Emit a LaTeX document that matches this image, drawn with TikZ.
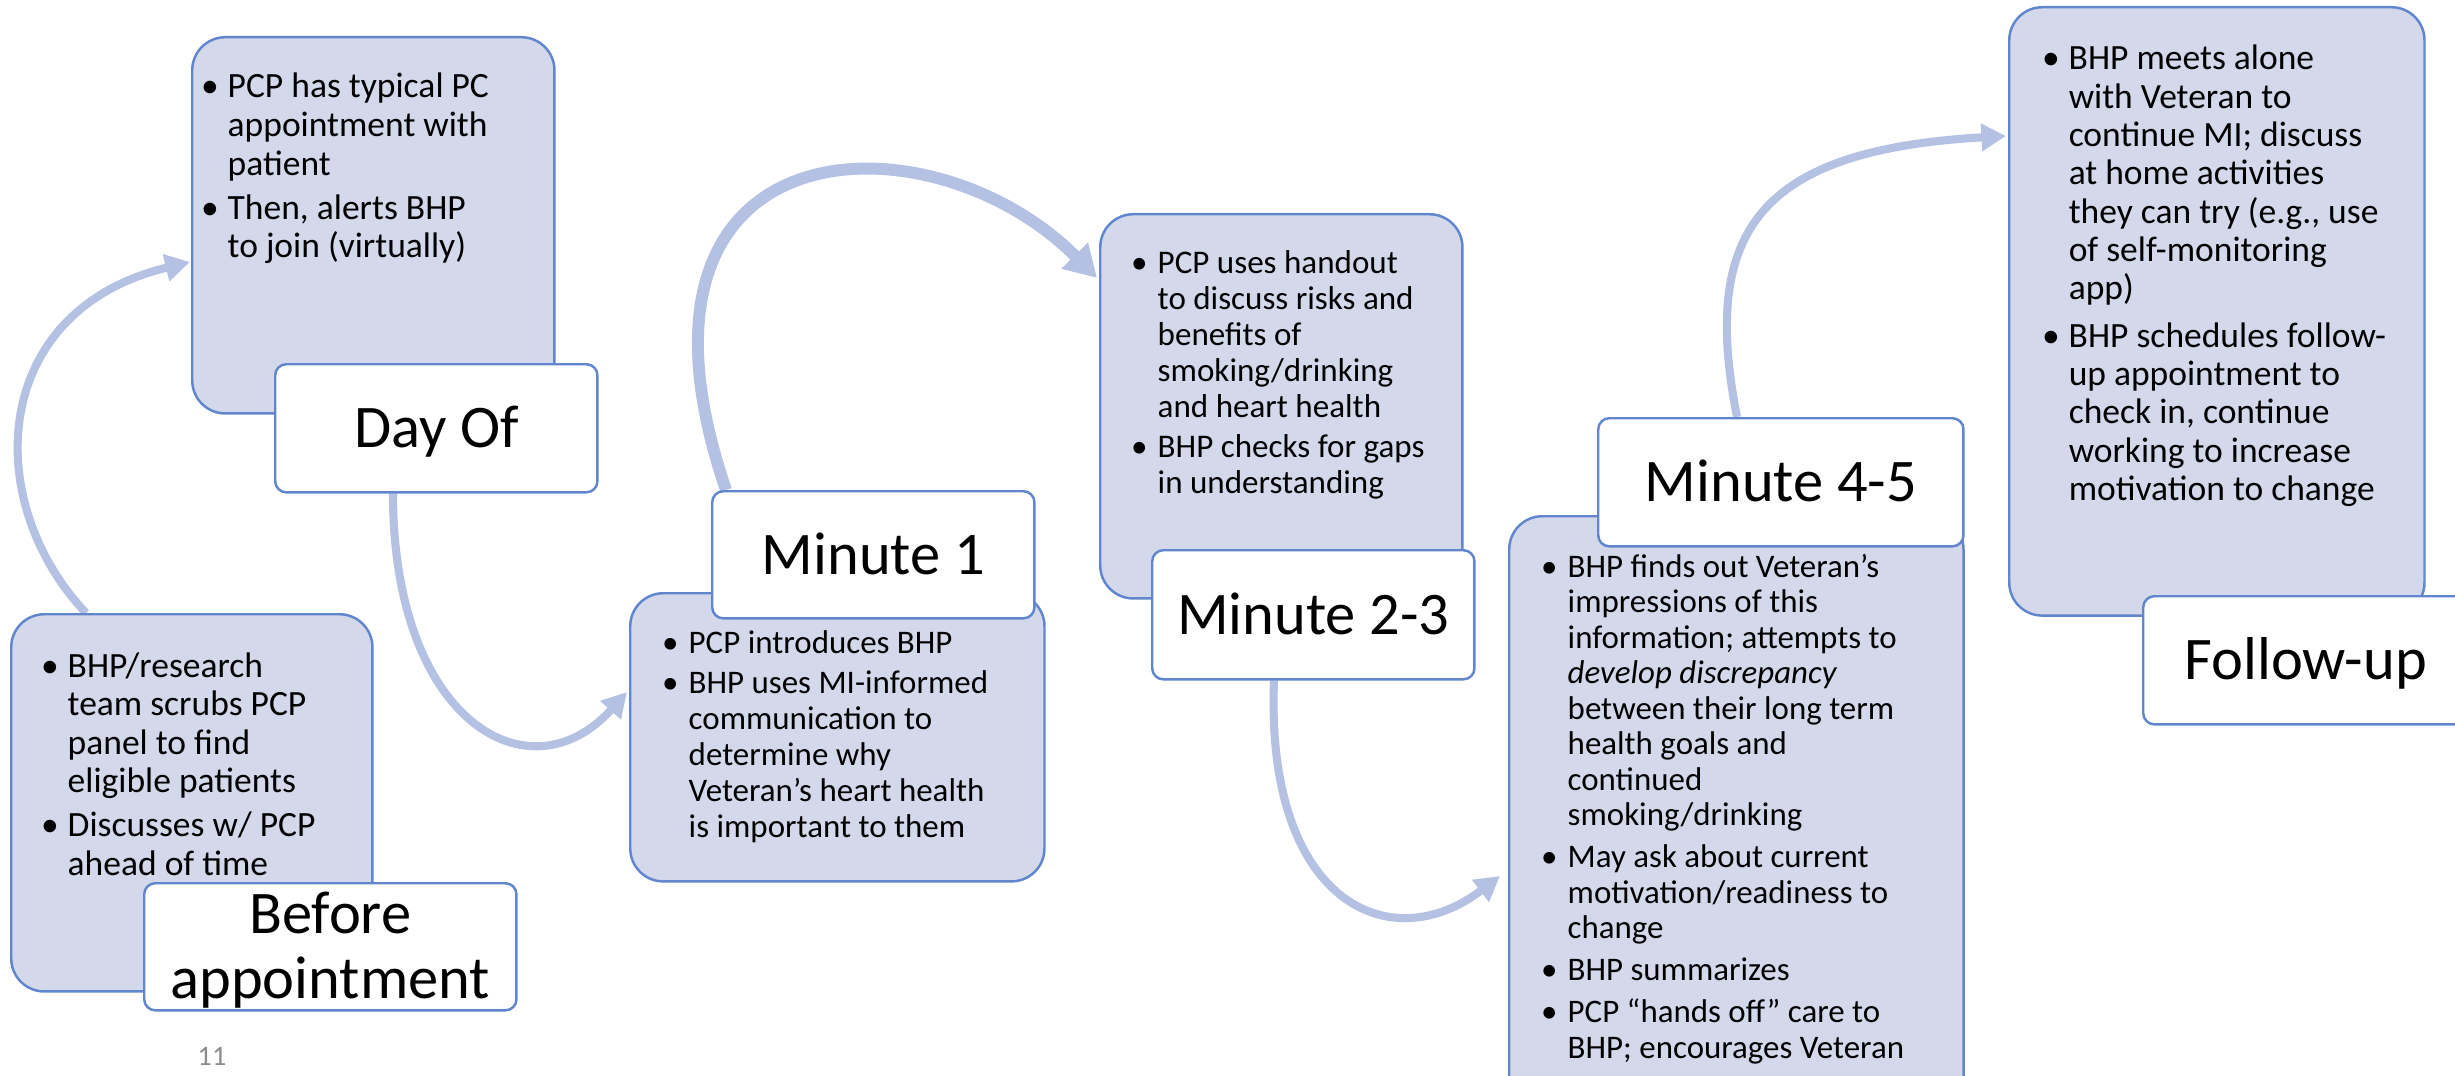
\documentclass[tikz,border=0pt]{standalone}
\usepackage{fontspec}
\setmainfont{Carlito}
\usetikzlibrary{arrows.meta,calc}
\definecolor{boxfill}{RGB}{211,216,235}
\definecolor{boxline}{RGB}{98,134,205}
\definecolor{arrowc}{RGB}{180,193,227}
\definecolor{pagenum}{RGB}{140,140,140}
\pgfdeclarelayer{bg}
\pgfsetlayers{bg,main}
\newlength\bind \setlength\bind{0.21cm}
\newcommand\bitem[1]{\hbox{\makebox[\bind][l]{\hspace{-1.6pt}\textbullet}#1}}
\newcommand\bcont[1]{\hbox{\hspace*{\bind}#1}}
\newcommand\bgap[1]{\vskip #1\relax}
\begin{document}
\begin{tikzpicture}[x=0.01cm, y=-0.01cm,
  bluebox/.style={draw=boxline, line width=0.7pt, fill=boxfill, rounded corners=0.33cm, inner sep=0pt, anchor=north west},
  lblbox/.style={draw=boxline, line width=0.7pt, fill=white, rounded corners=0.11cm, inner sep=0pt, anchor=north west,
     font=\fontsize{17.2}{18.5}\selectfont, text height=11.1pt, text depth=0pt},
  txt/.style={inner sep=0pt, anchor=base west},
  flow/.style={draw=arrowc, line width=2.3pt, -{Triangle[length=7pt, width=7.5pt]}},
  flowthick/.style={draw=arrowc, line width=3.4pt, -{Triangle[length=9pt, width=10pt]}}
]
\useasboundingbox (0,0) rectangle (2455,1076);

% blue content boxes
\node[bluebox, minimum width=3.61cm, minimum height=3.77cm] (beforebox) at (10,613) {};
\node[bluebox, minimum width=3.62cm, minimum height=3.76cm] (dayofbox) at (191,36) {};
\node[bluebox, minimum width=4.14cm, minimum height=2.88cm] (mabox) at (629,592) {};
\node[bluebox, minimum width=3.62cm, minimum height=3.84cm] (mbbox) at (1099,213) {};
\node[bluebox, minimum width=4.54cm, minimum height=6.40cm] (mcbox) at (1508,515) {};
\node[bluebox, minimum width=4.15cm, minimum height=6.08cm] (fubox) at (2008,6) {};

% white labels
\node[lblbox, minimum width=3.72cm, minimum height=1.27cm, text depth=18.5pt] (beforelbl) at (143,882)
  {\vtop{\halign{\hfil#\hfil\cr Before\cr appointment\cr}}};
\node[lblbox, minimum width=3.22cm, minimum height=1.28cm] (dayoflbl) at (274,363) {Day Of};
\node[lblbox, minimum width=3.22cm, minimum height=1.27cm] (malbl) at (711,490) {Minute 1};
\node[lblbox, minimum width=3.22cm, minimum height=1.29cm] (mblbl) at (1151,549) {Minute 2-3};
\node[lblbox, minimum width=3.65cm, minimum height=1.28cm] (mclbl) at (1597,417) {Minute 4-5};
\node[lblbox, minimum width=3.25cm, minimum height=1.28cm] (fulbl) at (2142,595) {Follow-up};

% texts
\node[txt] (beforetext) at (46,677) {\vtop{\fontsize{10.1}{10.95}\selectfont
  \bitem{BHP/research}\bcont{team scrubs PCP}\bcont{panel to find}\bcont{eligible patients}
  \bgap{1.56pt}\bitem{Discusses w/ PCP}\bcont{ahead of time}}};
\node[txt] (dayoftext) at (206,98) {\vtop{\fontsize{10.1}{10.95}\selectfont
  \bitem{PCP has typical PC}\bcont{appointment with}\bcont{patient}
  \bgap{1.56pt}\bitem{Then, alerts BHP}\bcont{to join (virtually)}}};
\node[txt] (matext) at (667,653) {\vtop{\fontsize{9.37}{10.24}\selectfont
  \bitem{PCP introduces BHP}
  \bgap{1.14pt}\bitem{BHP uses MI-informed}\bcont{communication to}\bcont{determine why}\bcont{Veteran’s heart health}\bcont{is important to them}}};
\node[txt] (mbtext) at (1136,273) {\vtop{\fontsize{9.4}{10.24}\selectfont
  \bitem{PCP uses handout}\bcont{to discuss risks and}\bcont{benefits of}\bcont{smoking/drinking}\bcont{and heart health}
  \bgap{1.4pt}\bitem{BHP checks for gaps}\bcont{in understanding}}};
\node[txt] (mctext) at (1546,577) {\vtop{\fontsize{9.36}{10.1}\selectfont
  \bitem{BHP finds out Veteran’s}\bcont{impressions of this}\bcont{information; attempts to}\bcont{\textit{develop discrepancy}}\bcont{between their long term}\bcont{health goals and}\bcont{continued}\bcont{smoking/drinking}
  \bgap{1.85pt}\bitem{May ask about current}\bcont{motivation/readiness to}\bcont{change}
  \bgap{1.85pt}\bitem{BHP summarizes}
  \bgap{1.85pt}\bitem{PCP “hands off” care to}\bcont{BHP; encourages Veteran}}};
\node[txt] (futext) at (2047,70) {\vtop{\fontsize{10.1}{10.9}\selectfont
  \bitem{BHP meets alone}\bcont{with Veteran to}\bcont{continue MI; discuss}\bcont{at home activities}\bcont{they can try (e.g., use}\bcont{of self-monitoring}\bcont{app)}
  \bgap{2.5pt}\bitem{BHP schedules follow-}\bcont{up appointment to}\bcont{check in, continue}\bcont{working to increase}\bcont{motivation to change}}};

\node[inner sep=0pt, anchor=base, text=pagenum, font=\fontsize{8}{9}\selectfont] (pnum) at (212,1065) {11};

% connector end points
\coordinate (a1s) at ($(beforebox.north west)+(76,0)$);
\coordinate (a1e) at ($(dayofbox.north west)+(-1,226)$);
\coordinate (a2s) at ($(dayoflbl.south west)+(119,0)$);
\coordinate (a2e) at ($(mabox.north west)+(-2,100)$);
\coordinate (a3s) at ($(malbl.north west)+(15,0)$);
\coordinate (a3e) at ($(mbbox.north west)+(-2,65)$);
\coordinate (a4s) at ($(mblbl.south west)+(123,0)$);
\coordinate (a4e) at ($(mcbox.north west)+(-8,361)$);
\coordinate (a5s) at ($(mclbl.north west)+(140,0)$);
\coordinate (a5e) at ($(fubox.north west)+(-2,130)$);

\begin{pgfonlayer}{bg}
\fill[white] (0,0) rectangle (2455,1076);
\draw[flow] (a1s) .. controls +(-106,-112) and +(-200,48) .. (a1e);
\draw[flow] (a2s) .. controls +(0,229) and +(-97,108) .. (a2e);
\draw[flowthick] (a3s) .. controls +(-126,-370) and +(-167,-168) .. (a3e);
\draw[flow] (a4s) .. controls +(-9,222) and +(-110,84) .. (a4e);
\draw[flow] (a5s) .. controls +(-37,-187) and +(-246,14) .. (a5e);
\end{pgfonlayer}
\end{tikzpicture}
\end{document}
